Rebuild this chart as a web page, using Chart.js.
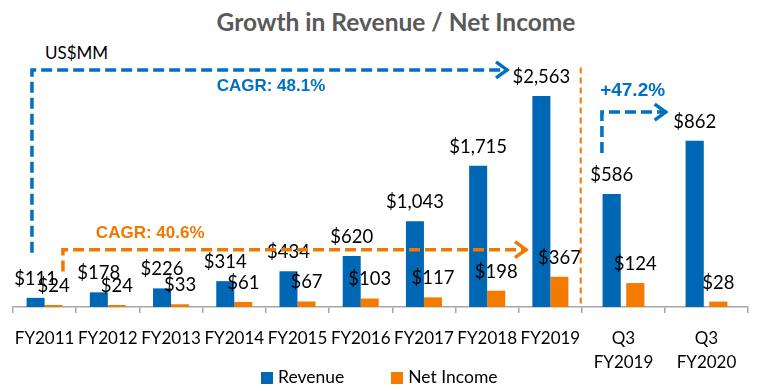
<!DOCTYPE html>
<html>
<head>
<meta charset="utf-8">
<script src="https://cdn.jsdelivr.net/npm/chart.js@4/dist/chart.umd.min.js"></script>
<style>
  body { margin: 0; background: #fff; }
  #wrap { position: relative; width: 782px; height: 391px; overflow: hidden; font-family: Lato, sans-serif; }
  #title { position: absolute; left: 5px; top: 7px; width: 782px; text-align: center;
           font: bold 24.5px Lato, sans-serif; color: #595959; }
  #unit { position: absolute; left: 45px; top: 42px; font: 17px Lato, sans-serif; color: #000; }
  #fyChart { position: absolute; left: 0; top: 0; }
  #qChart { position: absolute; left: 572px; top: 0; }
  #legend { position: absolute; left: 261px; top: 366px; font: 17.5px Lato, sans-serif; color: #000; white-space: nowrap; }
  #legend span.box { display: inline-block; width: 12px; height: 12px; margin-right: 5px; vertical-align: -1px; }
</style>
</head>
<body>
<div id="wrap">
  <div id="title">Growth in Revenue / Net Income</div>
  <div id="unit">US$MM</div>
  <canvas id="fyChart" width="582" height="391"></canvas>
  <canvas id="qChart" width="210" height="391"></canvas>
  <div id="legend">
    <span class="box" style="background:#0067B4"></span>Revenue<span style="display:inline-block;width:47px"></span><span class="box" style="background:#F57A00"></span>Net Income
  </div>
</div>
<script>
// full year figures (US$MM)
const fyLabels = ['FY2011', 'FY2012', 'FY2013', 'FY2014', 'FY2015', 'FY2016', 'FY2017', 'FY2018', 'FY2019'];
const fyRevenue = [111, 178, 226, 314, 434, 620, 1043, 1715, 2563];
const fyNetIncome = [24, 24, 33, 61, 67, 103, 117, 198, 367];

// quarter comparison
const qLabels = [['Q3', 'FY2019'], ['Q3', 'FY2020']];
const qRevenue = [586, 862];
const qNetIncome = [124, 28];

const BLUE = '#0067B4';
const ORANGE = '#F57A00';
const TEXT_BLUE = '#0070C0';
const TEXT_ORANGE = '#F07800';
const AXIS_GREY = '#A6A6A6';

const fmt = v => '$' + v.toLocaleString('en-US');

// value labels above every bar
const valueLabels = {
  id: 'valueLabels',
  afterDatasetsDraw(chart) {
    const ctx = chart.ctx;
    ctx.save();
    ctx.font = '18.5px Lato, sans-serif';
    ctx.fillStyle = '#000';
    ctx.textAlign = 'center';
    ctx.textBaseline = 'middle';
    chart.data.datasets.forEach((ds, i) => {
      chart.getDatasetMeta(i).data.forEach((bar, j) => {
        ctx.fillText(fmt(ds.data[j]), bar.x, bar.y - 19);
      });
    });
    ctx.restore();
  }
};

// dashed arrows / lines and their captions, placed in scale units
const callouts = {
  id: 'callouts',
  afterDraw(chart, args, opts) {
    const ctx = chart.ctx;
    const xs = chart.scales.x, ys = chart.scales.y;
    const px = p => [xs.getPixelForValue(p[0]), ys.getPixelForValue(p[1])];
    ctx.save();
    (opts.lines || []).forEach(l => {
      const pts = l.points.map(px);
      ctx.strokeStyle = l.color;
      ctx.lineWidth = l.width;
      ctx.setLineDash(l.dash);
      ctx.beginPath();
      pts.forEach((p, k) => k ? ctx.lineTo(p[0], p[1]) : ctx.moveTo(p[0], p[1]));
      ctx.stroke();
      if (l.arrow) {
        const tip = pts[pts.length - 1];
        ctx.setLineDash([]);
        ctx.lineWidth = l.width;
        ctx.lineJoin = 'miter';
        ctx.beginPath();
        ctx.moveTo(tip[0] - 12, tip[1] - 8);
        ctx.lineTo(tip[0] - 1, tip[1]);
        ctx.lineTo(tip[0] - 12, tip[1] + 8);
        ctx.stroke();
      }
    });
    (opts.texts || []).forEach(t => {
      const p = px(t.at);
      ctx.font = t.font;
      ctx.fillStyle = t.color;
      ctx.textAlign = 'center';
      ctx.textBaseline = 'middle';
      ctx.fillText(t.text, p[0], p[1]);
    });
    ctx.restore();
  }
};

const xAxis = labels => ({
  type: 'category',
  labels: labels,
  offset: true,
  // fixed axis height, and no extra side padding for the tick labels
  afterFit: s => { s.height = 84; s.paddingLeft = 0; s.paddingRight = 0; },
  grid: { display: true, drawOnChartArea: false, offset: true, tickLength: 6, color: AXIS_GREY, lineWidth: 1.5 },
  border: { display: true, color: AXIS_GREY, width: 1.5 },
  ticks: { color: '#000', font: { family: 'Lato', size: 17, lineHeight: 1.45 }, padding: 13, maxRotation: 0, autoSkip: false }
});

const baseOptions = (yMax, padding) => ({
  responsive: false,
  animation: false,
  layout: { padding: padding },
  scales: {
    y: { display: false, min: 0, max: yMax }
  },
  plugins: { legend: { display: false }, tooltip: { enabled: false } }
});

const fyOptions = baseOptions(3000, { top: 60, left: 13, right: 0, bottom: 0 });
fyOptions.scales.x = xAxis(fyLabels);
fyOptions.plugins.callouts = {
  lines: [
    { color: TEXT_BLUE, width: 3.5, dash: [11, 5], arrow: true,
      points: [[-0.2, 660], [-0.2, 2880], [7.33, 2880]] },
    { color: TEXT_ORANGE, width: 3.5, dash: [11, 5], arrow: true,
      points: [[0.29, 430], [0.29, 696], [7.63, 696]] },
    { color: TEXT_ORANGE, width: 2, dash: [6, 4], arrow: false,
      points: [[8.48, 2910], [8.48, 0]] }
  ],
  texts: [
    { text: 'CAGR: 48.1%', at: [3.58, 2680], color: TEXT_BLUE, font: 'bold 17px "Liberation Sans", Arial, sans-serif' },
    { text: 'CAGR: 40.6%', at: [1.67, 889], color: TEXT_ORANGE, font: 'bold 17px "Liberation Sans", Arial, sans-serif' }
  ]
};

new Chart(document.getElementById('fyChart'), {
  type: 'bar',
  data: {
    labels: fyLabels,
    datasets: [
      { label: 'Revenue', data: fyRevenue, backgroundColor: BLUE, barPercentage: 1, categoryPercentage: 0.57 },
      { label: 'Net Income', data: fyNetIncome, backgroundColor: ORANGE, barPercentage: 1, categoryPercentage: 0.57 }
    ]
  },
  options: fyOptions,
  plugins: [valueLabels, callouts]
});

const qOptions = baseOptions(1280, { top: 60, left: 10, right: 34, bottom: 0 });
qOptions.scales.x = xAxis(qLabels);
qOptions.plugins.callouts = {
  lines: [
    { color: TEXT_BLUE, width: 3.5, dash: [11, 5], arrow: true,
      points: [[-0.26, 798], [-0.26, 1010], [0.52, 1010]] }
  ],
  texts: [
    { text: '+47.2%', at: [0.11, 1118], color: TEXT_BLUE, font: 'bold 19px "Liberation Sans", Arial, sans-serif' }
  ]
};

new Chart(document.getElementById('qChart'), {
  type: 'bar',
  data: {
    labels: qLabels,
    datasets: [
      { label: 'Revenue', data: qRevenue, backgroundColor: BLUE, barPercentage: 0.77, categoryPercentage: 0.57 },
      { label: 'Net Income', data: qNetIncome, backgroundColor: ORANGE, barPercentage: 0.77, categoryPercentage: 0.57 }
    ]
  },
  options: qOptions,
  plugins: [valueLabels, callouts]
});
</script>
</body>
</html>
